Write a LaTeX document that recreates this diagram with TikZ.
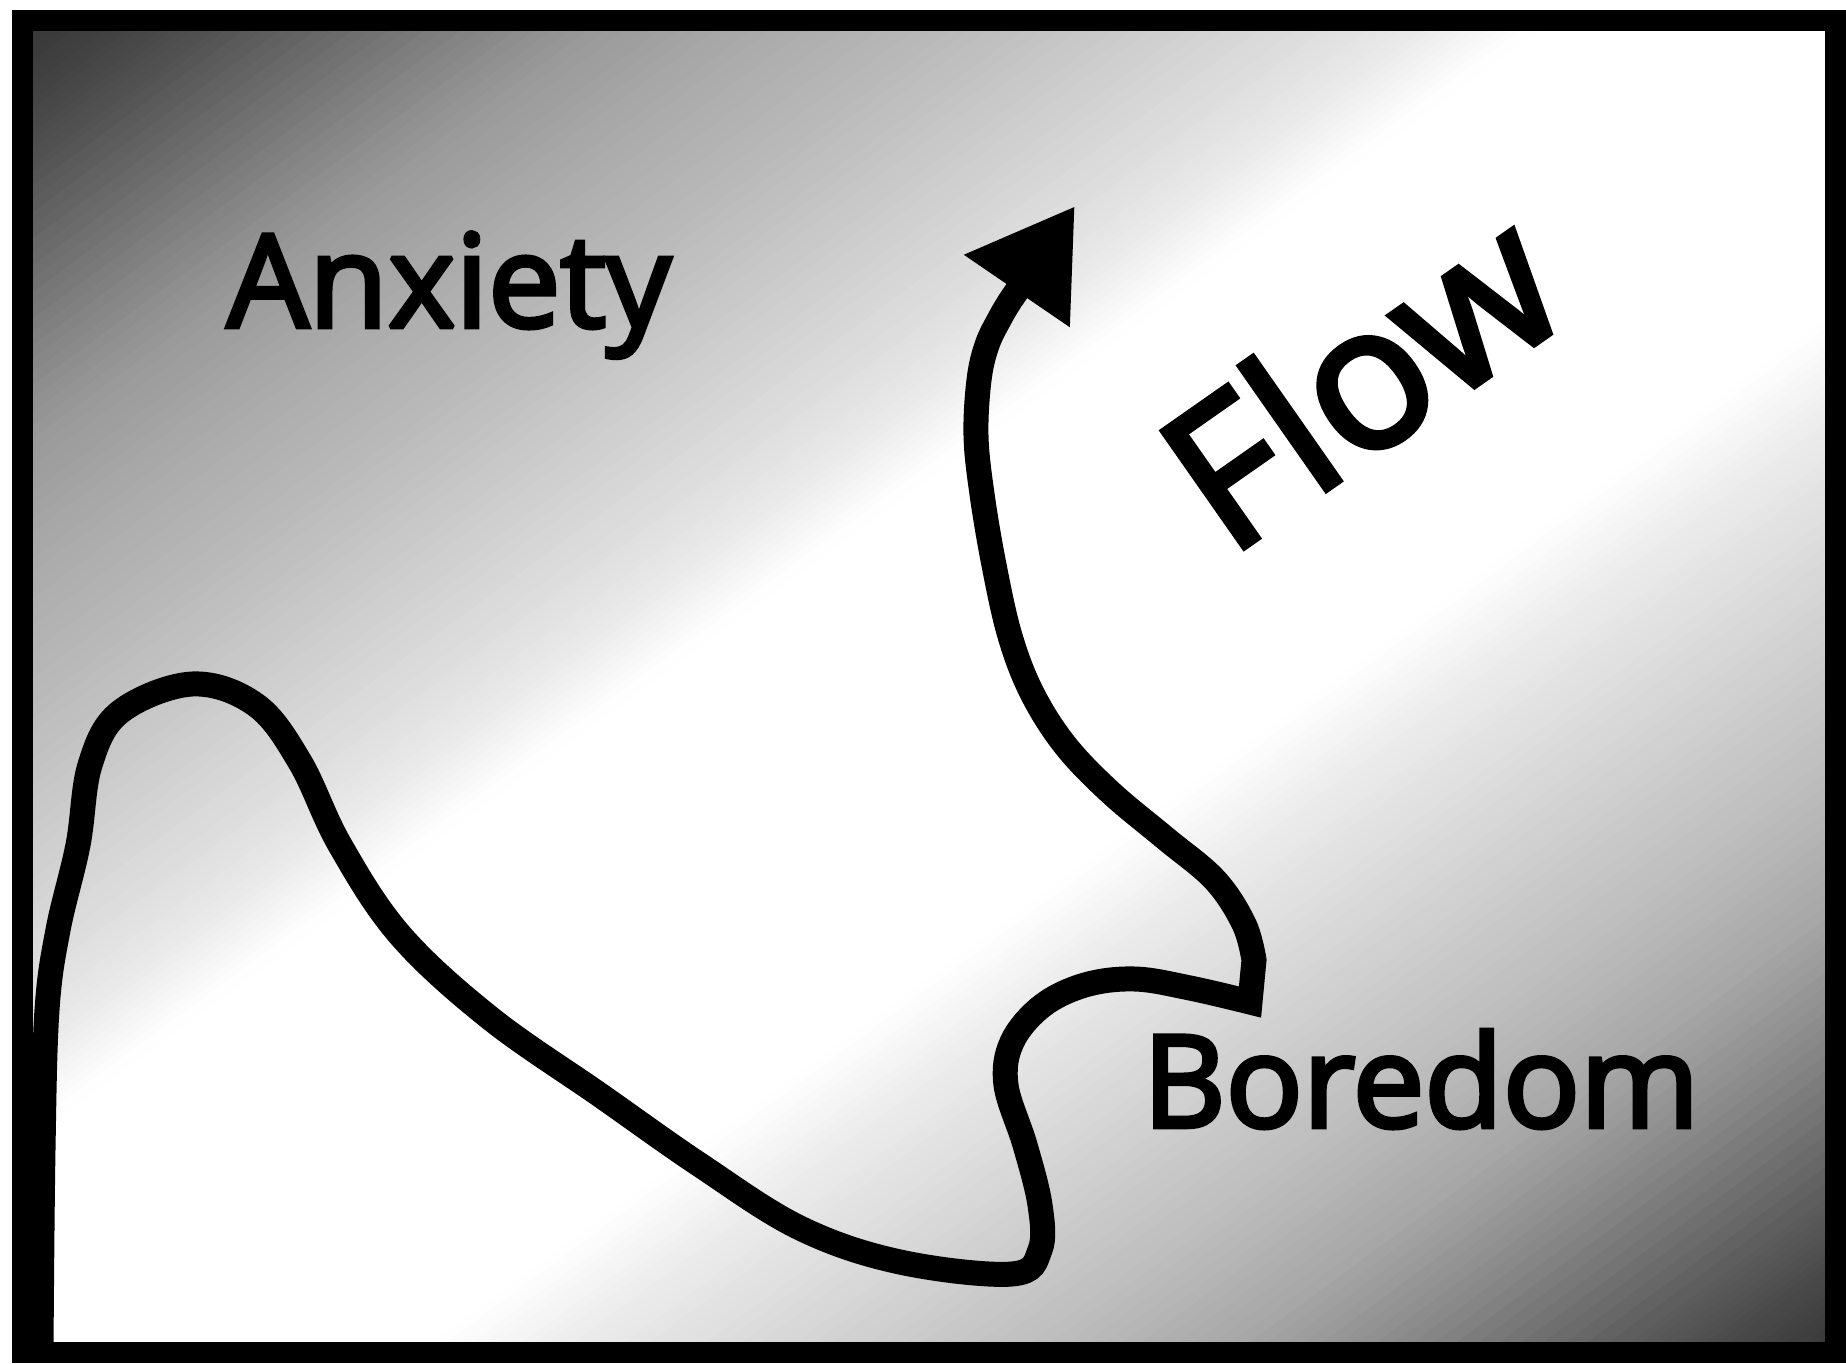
\documentclass[tikz,border=0pt]{standalone}
\usepackage{fontspec}
\usetikzlibrary{arrows.meta}
\newfontfamily\labfont{Open Sans}
% heavier strokes: fill and outline the glyphs
\newcommand\heavytext[2]{\special{pdf:literal direct 2 Tr #1 w 0 j 2 M}#2\special{pdf:literal direct 0 Tr}}
\begin{document}
\begin{tikzpicture}[x=1pt,y=-1pt,
  curve/.style={line width=25pt, line join=miter, draw=black},
  frame/.style={line width=21pt, draw=black},
  lab/.style={text=black, inner sep=0pt, outer sep=0pt}]
\useasboundingbox (0,0) rectangle (1846,1363);
\fill[white] (0,0) rectangle (1846,1363);
% background: grey at the top-left and bottom-right corners, white band along the other diagonal
\begin{scope}
  \clip (22,20) rectangle (1835,1352);
  \fill[white] (22,20) rectangle (1835,1352);
  \foreach \ta/\ga/\tb/\gb in {
      0.00/0.21/0.03/0.26, 0.03/0.26/0.06/0.33, 0.06/0.33/0.11/0.47,
      0.11/0.47/0.16/0.60, 0.16/0.60/0.21/0.67, 0.21/0.67/0.26/0.73,
      0.26/0.73/0.31/0.80, 0.31/0.80/0.36/0.87, 0.36/0.87/0.39/0.92,
      0.39/0.92/0.42/1.00,
      0.61/1.00/0.645/0.93, 0.645/0.93/0.68/0.88, 0.68/0.88/0.73/0.81,
      0.73/0.81/0.78/0.74, 0.78/0.74/0.83/0.66, 0.83/0.66/0.88/0.53,
      0.88/0.53/0.94/0.36, 0.94/0.36/0.97/0.28, 0.97/0.28/1.001/0.21}{
    \foreach \k in {0,...,9}{
      \pgfmathsetmacro\tz{\ta+(\tb-\ta)*\k/10}
      \pgfmathsetmacro\to{\ta+(\tb-\ta)*(\k+1)/10+0.002}
      \pgfmathsetmacro\gv{\ga+(\gb-\ga)*(\k+0.5)/10}
      \definecolor{bandc}{rgb}{\gv,\gv,\gv}
      \fill[bandc] ({22+2*\tz*1813},20) -- ({22+2*\to*1813},20)
        -- (22,{20+2*\to*1332}) -- (22,{20+2*\tz*1332}) -- cycle;
    }
  }
\end{scope}
% labels
\node[lab, font=\labfont\fontsize{129}{129}\selectfont, anchor=base] (anx) at (449,327) {\heavytext{4.5}{Anxiety}};
\node[lab, font=\labfont\fontsize{128}{128}\selectfont, anchor=base] (bor) at (1421,1127) {\heavytext{4.5}{Boredom}};
\node[lab, font=\labfont\fontsize{199}{199}\selectfont, rotate=35, anchor=base] (flw) at (1402,437) {\heavytext{6}{Flow}};
% the path
\coordinate (cusp) at (1250,1002);
\coordinate (tip) at (1075,206);
\draw[curve, -{Triangle[length=103pt,width=121pt]}]
  plot[smooth, tension=0.6] coordinates {
    (41,1350) (43,1150) (47,1010) (58,930) (78,845) (90,765) (120,712)
    (192,684) (256,705) (300,762) (340,845) (400,935) (490,1018)
    (600,1095) (700,1165) (800,1228) (900,1262) (1012,1274) (1040,1250)
    (1040,1205) (1025,1145) (1006,1085) (1012,1042) (1042,1006)
    (1085,985) (1135,979) (1190,988) (cusp)}
  -- plot[smooth, tension=0.6] coordinates {
    (1254,960) (1244,924) (1215,880) (1165,838) (1110,792) (1065,745)
    (1032,693) (1010,636) (994,565) (982,494) (976,436) (979,380)
    (987,345) (1000,318) (1010,301)}
  -- (tip);
\draw[frame] (22,20) rectangle (1835,1352);
\end{tikzpicture}
\end{document}
